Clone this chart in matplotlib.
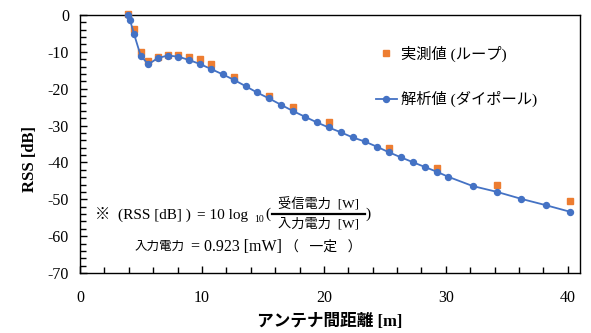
import matplotlib
matplotlib.use('Agg')
import matplotlib.pyplot as plt
from matplotlib.lines import Line2D
from matplotlib.ticker import MultipleLocator

plt.rcParams['font.family'] = ['Liberation Serif', 'Noto Sans CJK JP']
plt.rcParams['axes.unicode_minus'] = False

# measured RSS (loop antenna)
dist_meas = [3.96, 4.43, 4.97, 5.6, 6.37, 7.19, 8.06, 8.93, 9.84, 10.74, 12.62,
             15.5, 17.43, 20.38, 25.3, 29.24, 34.2, 40.2]
rss_meas = [0.3, -3.9, -10.0, -12.4, -11.3, -10.9, -10.9, -11.4, -12.0, -13.3, -16.9,
            -21.9, -25.0, -29.1, -36.1, -41.6, -46.1, -50.5]

# analytical RSS (dipole)
dist_calc = [3.96, 4.1, 4.43, 4.97, 5.6, 6.37, 7.19, 8.06, 8.93, 9.84, 10.74, 11.7,
             12.62, 13.58, 14.5, 15.48, 16.45, 17.43, 18.44, 19.4, 20.38, 21.37,
             22.35, 23.33, 24.32, 25.3, 26.3, 27.27, 28.25, 29.24, 30.2, 32.2,
             34.2, 36.2, 38.2, 40.2]
rss_calc = [0.0, -1.4, -5.15, -11.0, -13.4, -11.7, -11.0, -11.3, -12.2, -13.3, -14.65,
            -16.1, -17.6, -19.3, -21.0, -22.6, -24.3, -26.0, -27.6, -29.1, -30.5,
            -31.8, -33.2, -34.3, -35.7, -37.2, -38.6, -39.9, -41.2, -42.5, -43.9,
            -46.4, -48.0, -49.9, -51.6, -53.4]

W, H = 591, 333
fig = plt.figure(figsize=(W / 100, H / 100), dpi=100)
ax = fig.add_axes([80 / W, 1 - 273 / H, 500 / W, 258 / H])
renderer = fig.canvas.get_renderer()


def px(x, y):
    return x / W, 1 - y / H


def put(x, y, s, size):
    # place a text piece, return its right edge in pixels
    t = fig.text(*px(x, y), s, fontsize=size, va='center', ha='left')
    return t.get_window_extent(renderer).x1


blue = '#4472C4'
orange = '#ED7D31'

ax.plot(dist_meas, rss_meas, 's', color=orange, ms=4.2, ls='none', zorder=3,
        clip_on=False)
ax.plot(dist_calc, rss_calc, '-o', color=blue, lw=1.3, ms=4.3, zorder=4,
        clip_on=False)

ax.set_xlim(0, 41)
ax.set_ylim(-70, 0)
ax.xaxis.set_major_locator(MultipleLocator(10))
ax.xaxis.set_minor_locator(MultipleLocator(2))
ax.yaxis.set_major_locator(MultipleLocator(10))
ax.yaxis.set_minor_locator(MultipleLocator(2))
ax.tick_params(which='both', direction='in', top=False, right=False,
               labelsize=11.5, width=1.0)
ax.tick_params(which='major', length=5)
ax.tick_params(which='minor', length=4)
ax.tick_params(axis='x', pad=12)
ax.tick_params(axis='y', pad=8)
for s in ax.spines.values():
    s.set_linewidth(1.0)

ax.set_xlabel('アンテナ間距離 [m]', fontsize=12, fontweight='bold', labelpad=6)
ax.set_ylabel('RSS [dB]', fontsize=12, fontweight='bold')
ax.yaxis.set_label_coords(-0.085, 0.44)

handles = [Line2D([], [], marker='s', color=orange, ls='none', ms=4.2),
           Line2D([], [], marker='o', color=blue, lw=1.3, ms=4.3)]
fig.legend(handles, ['実測値 (ループ)', '解析値 (ダイポール)'],
           loc='upper left', bbox_to_anchor=px(362, 32), frameon=False,
           fontsize=11, handlelength=1.4, handletextpad=0.25, labelspacing=1.9)

# RSS definition formula
put(95, 215, '※', 11)
e = put(118, 215, '(RSS [dB] )', 11)
e = put(e + 6, 215, '= 10 log', 11)
e = put(e + 6, 220, '10', 7)
e = put(e + 2, 214, '(', 11)
x0, x1 = e + 1, e + 94
fig.add_artist(Line2D([x0 / W, x1 / W], [1 - 214 / H, 1 - 214 / H],
                      color='black', lw=1.6))
fig.text(*px((x0 + x1) / 2, 205), '受信電力  [W]', fontsize=9.5,
         va='center', ha='center')
fig.text(*px((x0 + x1) / 2, 224), '入力電力  [W]', fontsize=9.5,
         va='center', ha='center')
put(x1 + 1, 214, ')', 11)

e = put(135, 247, '入力電力', 9)
e = put(e + 6, 247, '= 0.923 [mW]', 11.5)
put(e + 3, 247, '（   一定   ）', 10)

fig.savefig('out.png', dpi=100)
